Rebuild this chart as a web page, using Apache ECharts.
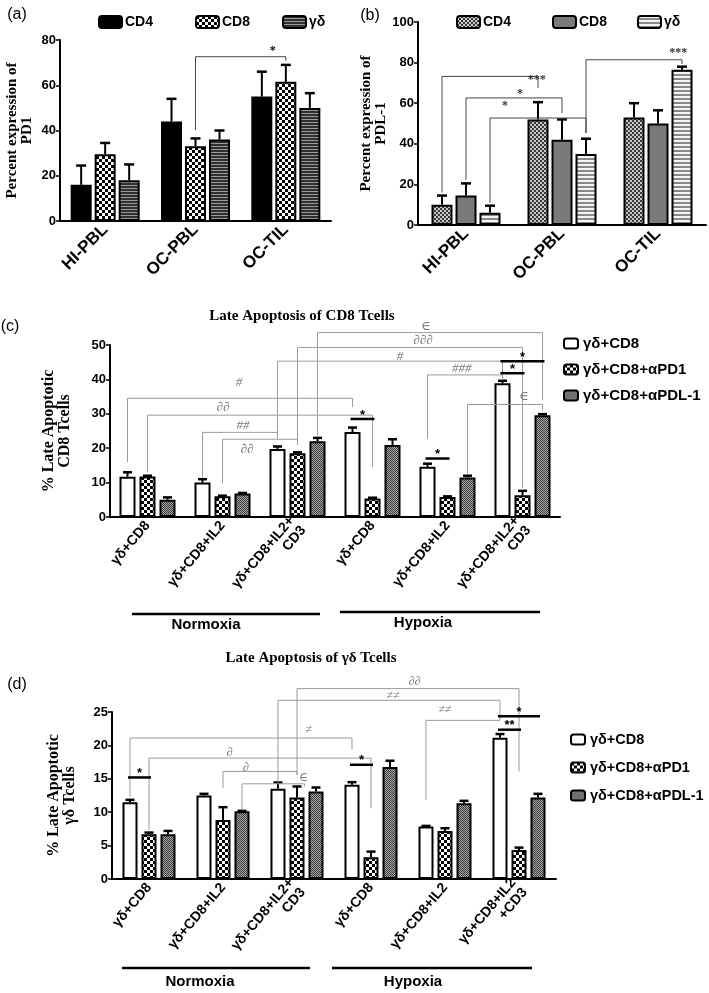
<!DOCTYPE html>
<html>
<head>
<meta charset="utf-8">
<script src="https://cdn.jsdelivr.net/npm/echarts@6/dist/echarts.min.js"></script>
<style>
html, body { margin: 0; padding: 0; background: #fff; }
#main { width: 709px; height: 993px; }
</style>
</head>
<body>
<div id="main"></div>
<script>
// (a) PD1 expression
var groupsAB = ['HI-PBL', 'OC-PBL', 'OC-TIL'];
var pd1CD4 = [16, 44, 55];
var pd1CD4Top = [24.5, 54, 66];
var pd1CD8 = [29.5, 33, 61.5];
var pd1CD8Top = [34.5, 36.5, 69];
var pd1GD = [18, 36, 50];
var pd1GDTop = [25, 40, 56.5];
// bracket rows: [cat1, bar1, leg1, top, cat2, bar2, leg2, labelX, labelY]
var bracketsA = [[1, 1, 40.2, 72.6, 2, 1, 70.8, 1.855, 75.3]];
var bracketTextA = ['*'];

// (b) PDL-1 expression
var pdl1CD4 = [10, 52, 53];
var pdl1CD4Top = [14.5, 60.5, 60];
var pdl1CD8 = [14.5, 42, 50];
var pdl1CD8Top = [20.5, 52, 56.5];
var pdl1GD = [6, 35, 76.5];
var pdl1GDTop = [9.5, 42.5, 78];
var bracketsB = [
    [0, 0, 16, 73.2, 1, 0, 67.5, 0.736, 71.5],
    [0, 1, 22.3, 62.6, 1, 1, 55.2, 0.5625, 64.5],
    [0, 2, 11, 52.7, 1, 2, 45.3, 0.406, 58.8],
    [1, 2, 45.3, 81.4, 2, 2, 79.3, 2.21, 84.7]
];
var bracketTextB = ['***', '*', '*', '***'];

// (c) late apoptosis of CD8 T cells
var groupsCD = ['γδ+CD8', 'γδ+CD8+IL2', 'γδ+CD8+IL2+\nCD3', 'γδ+CD8', 'γδ+CD8+IL2', 'γδ+CD8+IL2+\nCD3'];
var groupsD = ['γδ+CD8', 'γδ+CD8+IL2', 'γδ+CD8+IL2+\nCD3', 'γδ+CD8', 'γδ+CD8+IL2', 'γδ+CD8+IL2\n+CD3'];
var cd8Plain = [11.7, 10, 19.8, 24.7, 14.6, 38.9];
var cd8PlainTop = [13, 11, 20.5, 26, 15.5, 39.6];
var cd8PD1 = [11.8, 6, 18.5, 5.4, 5.8, 6.3];
var cd8PD1Top = [12, 6.2, 18.8, 5.6, 6, 7.6];
var cd8PDL1 = [5, 6.8, 22, 20.9, 11.5, 29.6];
var cd8PDL1Top = [5.7, 7, 23, 22.6, 12, 29.9];
var bracketsC = [
    [0, 0, 16, 34.5, 3, 0, 32, 1.22, 39.2],
    [0, 1, 13, 29.6, 3, 1, 14.5, 1.007, 31.9],
    [1, 0, 11.6, 24.6, 2, 0, 22.8, 1.273, 26.7],
    [1, 1, 9.8, 22.6, 2, 1, 21, 1.327, 19.7],
    [2, 0, 22.8, 45.3, 5, 0, 40.5, 3.367, 46.6],
    [2, 1, 21, 49.3, 5, 1, 8.4, 3.673, 51.3],
    [2, 2, 23.8, 53.6, 5, 2, 34, 3.713, 55.5],
    [4, 0, 22.8, 41.3, 5, 0, 39.8, 4.19, 43.2],
    [4, 2, 12.6, 32.7, 5, 2, 31, 5.02, 35]
];
var bracketTextC = ['#', '∂∂', '##', '∂∂', '#', '∂∂∂', '∈', '###', '∈'];
// significance lines: [cat1, bar1, cat2, bar2, y]
var sigC = [[3, 0, 3, 1, 28.5], [4, 0, 4, 1, 17], [5, 0, 5, 1, 41.8], [5, 0, 5, 2, 45.3]];
var sigTextC = ['*', '*', '*', '*'];

// (d) late apoptosis of γδ T cells
var gdPlain = [11.5, 12.5, 13.5, 14.1, 7.85, 21.15];
var gdPlainTop = [11.85, 12.75, 14.45, 14.5, 7.95, 21.7];
var gdPD1 = [6.7, 8.85, 12.2, 3.25, 7.2, 4.35];
var gdPD1Top = [6.95, 10.75, 13.85, 4.1, 7.6, 4.7];
var gdPDL1 = [6.7, 10.15, 13.1, 16.75, 11.35, 12.2];
var gdPDL1Top = [7.2, 10.2, 13.7, 17.7, 11.7, 12.75];
var bracketsD = [
    [0, 0, 12.35, 21.1, 3, 0, 19.35, 2.16, 22.35],
    [0, 1, 7.35, 18.1, 3, 1, 10.6, 1.09, 18.95],
    [1, 1, 13.6, 16.1, 2, 1, 15.6, 1.31, 16.6],
    [1, 2, 10.35, 14.25, 2, 1.4, 13.85, 2.09, 15.1],
    [2, 0, 14.45, 26.75, 5, 0, 23.75, 3.3, 27.35],
    [2, 1, 15.6, 28.5, 5, 1, 16.1, 3.59, 29.5],
    [4, 0, 11.85, 23.75, 5, 0, 23.75, 4.0, 25.35]
];
var bracketTextD = ['≠', '∂', '∂', '∈', '≠≠', '∂∂', '≠≠'];
var sigD = [[0, 0, 0, 1, 15.2], [3, 0, 3, 1, 17.1], [5, 0, 5, 2, 24.35], [5, 0, 5, 1, 22.35]];
var sigTextD = ['*', '*', '*', '**'];

var SANS = 'Liberation Sans, Arial, sans-serif';
var SERIF = 'Liberation Serif, DejaVu Serif, serif';

function pattern(w, h, draw) {
    var c = document.createElement('canvas');
    c.width = w; c.height = h;
    draw(c.getContext('2d'));
    return {image: c, repeat: 'repeat'};
}
var checker = pattern(6, 6, function (g) {
    g.fillStyle = '#fff'; g.fillRect(0, 0, 6, 6);
    g.fillStyle = '#000'; g.fillRect(0, 0, 3, 3); g.fillRect(3, 3, 3, 3);
});
var darkStripes = pattern(4, 3, function (g) {
    g.fillStyle = '#303030'; g.fillRect(0, 0, 4, 3);
    g.fillStyle = '#9a9a9a'; g.fillRect(0, 2, 4, 1);
});
var fineChecker = pattern(4, 4, function (g) {
    g.fillStyle = '#c8c8c8'; g.fillRect(0, 0, 4, 4);
    g.fillStyle = '#3a3a3a'; g.fillRect(0, 0, 2, 2); g.fillRect(2, 2, 2, 2);
});
var lightStripes = pattern(4, 4, function (g) {
    g.fillStyle = '#f4f4f4'; g.fillRect(0, 0, 4, 4);
    g.fillStyle = '#8a8a8a'; g.fillRect(0, 2, 4, 2);
});
var darkDots = pattern(2, 2, function (g) {
    g.fillStyle = '#a8a8a8'; g.fillRect(0, 0, 2, 2);
    g.fillStyle = '#3a3a3a'; g.fillRect(0, 0, 1, 1); g.fillRect(1, 1, 1, 1);
});

// bar width (px) and gap ratio per panel
var BW = [21, 21, 16, 15];
var GAP = [0.143, 0.143, 0.25, 0.267];
function pitch(i) { return BW[i] * (1 + GAP[i]); }

function bars(name, i, vals, fill) {
    return {
        type: 'bar', name: name, xAxisIndex: i, yAxisIndex: i, data: vals,
        barWidth: BW[i], barGap: (GAP[i] * 100) + '%',
        itemStyle: {color: fill, borderColor: '#000', borderWidth: 2},
        z: 3, silent: true
    };
}

function errors(i, vals, tops, cap) {
    var rows = [];
    for (var s = 0; s < vals.length; s++) {
        for (var c = 0; c < vals[s].length; c++) rows.push([c, s, vals[s][c], tops[s][c]]);
    }
    var p = pitch(i);
    return {
        type: 'custom', xAxisIndex: i, yAxisIndex: i, data: rows, z: 4, silent: true,
        renderItem: function (params, api) {
            var b = api.coord([api.value(0), api.value(2)]);
            var t = api.coord([api.value(0), api.value(3)]);
            var x = b[0] + (api.value(1) - 1) * p;
            return {type: 'group', children: [
                {type: 'line', shape: {x1: x, y1: b[1], x2: x, y2: t[1]}, style: {stroke: '#000', lineWidth: 2}},
                {type: 'line', shape: {x1: x - cap / 2, y1: t[1], x2: x + cap / 2, y2: t[1]}, style: {stroke: '#000', lineWidth: 2.5}}
            ]};
        }
    };
}

// x position of a fractional category value (the ordinal scale rounds, so use the band width)
function catX(api, v) {
    return api.coord([0, 0])[0] + v * api.size([1, 0])[0];
}

function brackets(i, rows, texts, lineColor, textColor, italic, fontSize) {
    var p = pitch(i);
    return {
        type: 'custom', xAxisIndex: i, yAxisIndex: i, data: rows, z: 5, silent: true,
        renderItem: function (params, api) {
            var x1 = api.coord([api.value(0), 0])[0] + (api.value(1) - 1) * p;
            var x2 = api.coord([api.value(4), 0])[0] + (api.value(5) - 1) * p;
            var y1 = api.coord([0, api.value(2)])[1];
            var yt = api.coord([0, api.value(3)])[1];
            var y2 = api.coord([0, api.value(6)])[1];
            var ly = api.coord([0, api.value(8)])[1];
            return {type: 'group', children: [
                {type: 'polyline', shape: {points: [[x1, y1], [x1, yt], [x2, yt], [x2, y2]]},
                    style: {stroke: lineColor, lineWidth: 1, fill: null}},
                {type: 'text', x: catX(api, api.value(7)), y: ly, style: {
                    text: texts[params.dataIndex], fill: textColor, align: 'center', verticalAlign: 'middle',
                    font: (italic ? 'italic ' : 'bold ') + fontSize + 'px ' + SERIF
                }}
            ]};
        }
    };
}

function sigLines(i, rows, texts) {
    var p = pitch(i);
    return {
        type: 'custom', xAxisIndex: i, yAxisIndex: i, data: rows, z: 6, silent: true,
        renderItem: function (params, api) {
            var x1 = api.coord([api.value(0), 0])[0] + (api.value(1) - 1) * p;
            var x2 = api.coord([api.value(2), 0])[0] + (api.value(3) - 1) * p;
            var y = api.coord([0, api.value(4)])[1];
            return {type: 'group', children: [
                {type: 'line', shape: {x1: x1 - 2, y1: y, x2: x2 + 2, y2: y}, style: {stroke: '#000', lineWidth: 2.5}},
                {type: 'text', x: (x1 + x2) / 2, y: y - 4, style: {
                    text: texts[params.dataIndex], fill: '#000', align: 'center', verticalAlign: 'middle',
                    font: 'bold 13px ' + SANS
                }}
            ]};
        }
    };
}

function catAxis(i, data, rotate, size) {
    return {
        type: 'category', gridIndex: i, data: data,
        axisLine: {lineStyle: {color: '#000', width: 2}},
        axisTick: {alignWithLabel: true, length: 4, lineStyle: {color: '#000', width: 1.5}},
        axisLabel: {interval: 0, rotate: rotate, color: '#000', fontWeight: 'bold', fontSize: size,
            fontFamily: SANS, margin: 6, lineHeight: size + 1}
    };
}

function valAxis(i, max, step, name, gap, nameSize) {
    return {
        type: 'value', gridIndex: i, min: 0, max: max, interval: step,
        name: name, nameLocation: 'middle', nameGap: gap,
        nameTextStyle: {fontFamily: SERIF, fontWeight: 'bold', fontSize: nameSize, color: '#000', lineHeight: nameSize},
        axisLine: {show: true, lineStyle: {color: '#000', width: 2}},
        axisTick: {show: true, length: 4, lineStyle: {color: '#000', width: 1.5}},
        splitLine: {show: false},
        axisLabel: {color: '#000', fontWeight: 'bold', fontSize: 13, fontFamily: SANS, margin: 4}
    };
}

// legend boxes carry a 5px padding, so positions are given for the icon and shifted here
function legendItem(name, left, top) {
    return {
        data: [name], left: left - 5, top: top - 5, itemWidth: 23, itemHeight: 12, selectedMode: false,
        formatter: function (n) { return n.split(':')[1]; },
        textStyle: {fontWeight: 'bold', fontSize: 14, fontFamily: SANS, color: '#000', padding: [0, 0, 0, -2]}
    };
}

function legendColumn(names, left, top, gap, size) {
    return {
        data: names, orient: 'vertical', left: left - 5, top: top - 5, itemWidth: 14, itemHeight: 10,
        itemGap: gap, selectedMode: false,
        formatter: function (n) { return n.split(':')[1]; },
        textStyle: {fontWeight: 'bold', fontSize: size, fontFamily: SANS, color: '#000'}
    };
}

function label(text, x, y, font, color) {
    return {type: 'text', x: x, y: y, style: {text: text, font: font, fill: color || '#000', align: 'center', verticalAlign: 'middle'}};
}
function hline(x1, x2, y) {
    return {type: 'line', shape: {x1: x1, y1: y, x2: x2, y2: y}, style: {stroke: '#000', lineWidth: 2.5}};
}

var chart = echarts.init(document.getElementById('main'));
var option = {
    animation: false,
    backgroundColor: '#fff',
    grid: [
        {left: 60, top: 40, width: 271, height: 181},
        {left: 418, top: 22, width: 288, height: 203},
        {left: 110, top: 345, width: 450, height: 172},
        {left: 112, top: 712, width: 444, height: 167}
    ],
    xAxis: [
        catAxis(0, groupsAB, 45, 17),
        catAxis(1, groupsAB, 45, 17),
        catAxis(2, groupsCD, 50, 14),
        catAxis(3, groupsD, 50, 14)
    ],
    yAxis: [
        valAxis(0, 80, 20, 'Percent expression of\nPD1', 25, 15),
        valAxis(1, 100, 20, 'Percent expression of\nPDL-1', 24, 15),
        valAxis(2, 50, 10, '% Late Apoptotic\nCD8 Tcells', 37, 16),
        valAxis(3, 25, 5, '% Late Apoptotic\nγδ Tcells', 34, 16)
    ],
    legend: [
        legendItem('a:CD4', 98, 15), legendItem('a:CD8', 195, 15), legendItem('a:γδ', 282, 15),
        legendItem('b:CD4', 456, 15), legendItem('b:CD8', 552, 15), legendItem('b:γδ', 637, 15),
        legendColumn(['c:γδ+CD8', 'c:γδ+CD8+αPD1', 'c:γδ+CD8+αPDL-1'], 563, 336, 11, 15),
        legendColumn(['d:γδ+CD8', 'd:γδ+CD8+αPD1', 'd:γδ+CD8+αPDL-1'], 570, 732, 13, 14.5)
    ],
    graphic: [
        label('(a)', 17, 15, '16px ' + SANS),
        label('(b)', 370, 16, '16px ' + SANS),
        label('(c)', 10, 327, '16px ' + SANS),
        label('(d)', 17, 685, '16px ' + SANS),
        label('Late Apoptosis of CD8 Tcells', 302, 316, 'bold 15px ' + SERIF),
        label('Late Apoptosis of γδ Tcells', 311, 658, 'bold 15px ' + SERIF),
        hline(132, 320, 614), label('Normoxia', 206, 625, 'bold 15px ' + SANS),
        hline(340, 540, 612), label('Hypoxia', 423, 623, 'bold 15px ' + SANS),
        hline(122, 310, 968), label('Normoxia', 200, 982, 'bold 15px ' + SANS),
        hline(332, 532, 968), label('Hypoxia', 413, 982, 'bold 15px ' + SANS)
    ],
    series: [
        bars('a:CD4', 0, pd1CD4, '#000'),
        bars('a:CD8', 0, pd1CD8, checker),
        bars('a:γδ', 0, pd1GD, darkStripes),
        errors(0, [pd1CD4, pd1CD8, pd1GD], [pd1CD4Top, pd1CD8Top, pd1GDTop], 10),
        brackets(0, bracketsA, bracketTextA, '#444', '#000', false, 12),

        bars('b:CD4', 1, pdl1CD4, fineChecker),
        bars('b:CD8', 1, pdl1CD8, '#7a7a7a'),
        bars('b:γδ', 1, pdl1GD, lightStripes),
        errors(1, [pdl1CD4, pdl1CD8, pdl1GD], [pdl1CD4Top, pdl1CD8Top, pdl1GDTop], 10),
        brackets(1, bracketsB, bracketTextB, '#444', '#333', false, 12),

        bars('c:γδ+CD8', 2, cd8Plain, '#fff'),
        bars('c:γδ+CD8+αPD1', 2, cd8PD1, checker),
        bars('c:γδ+CD8+αPDL-1', 2, cd8PDL1, darkDots),
        errors(2, [cd8Plain, cd8PD1, cd8PDL1], [cd8PlainTop, cd8PD1Top, cd8PDL1Top], 9),
        brackets(2, bracketsC, bracketTextC, '#9a9a9a', '#777', true, 13),
        sigLines(2, sigC, sigTextC),

        bars('d:γδ+CD8', 3, gdPlain, '#fff'),
        bars('d:γδ+CD8+αPD1', 3, gdPD1, checker),
        bars('d:γδ+CD8+αPDL-1', 3, gdPDL1, darkDots),
        errors(3, [gdPlain, gdPD1, gdPDL1], [gdPlainTop, gdPD1Top, gdPDL1Top], 9),
        brackets(3, bracketsD, bracketTextD, '#9a9a9a', '#777', true, 12),
        sigLines(3, sigD, sigTextD)
    ]
};
chart.setOption(option);
</script>
</body>
</html>
